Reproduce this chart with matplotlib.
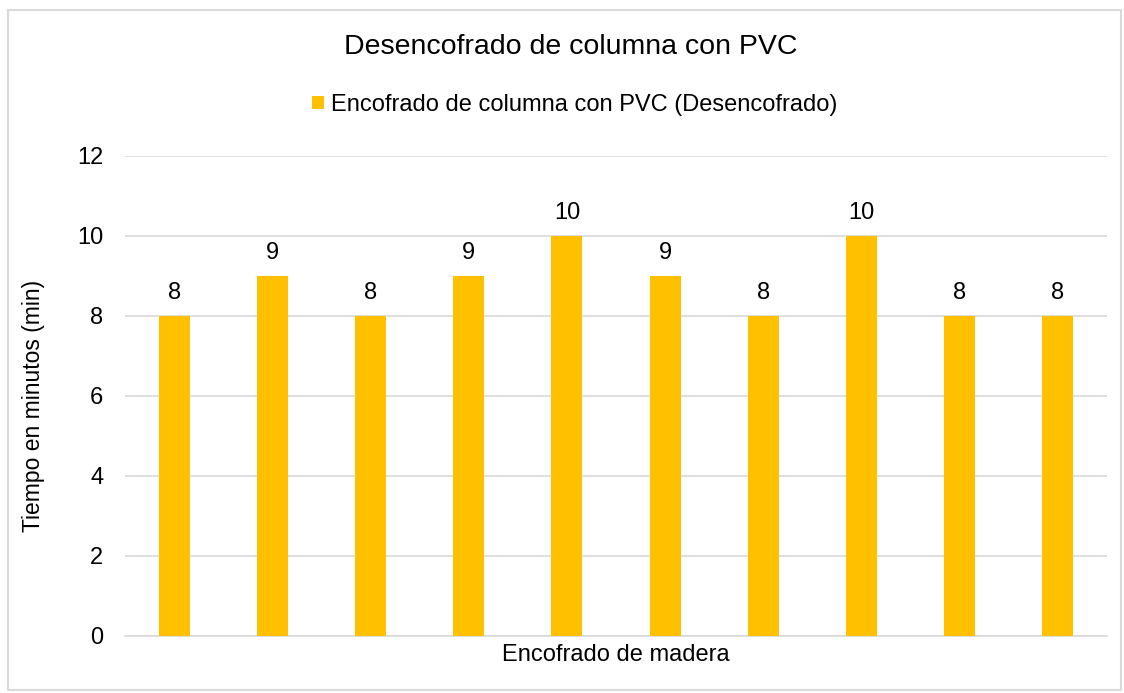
import matplotlib.pyplot as plt
import numpy as np
from matplotlib.patches import Rectangle

plt.rcParams['font.family'] = ['Liberation Sans', 'DejaVu Sans']

# datos
ensayos = list(range(1, 11))
tiempos = [8, 9, 8, 9, 10, 9, 8, 10, 8, 8]
serie = 'Encofrado de columna con PVC (Desencofrado)'
yticks = [0, 2, 4, 6, 8, 10, 12]

fig = plt.figure(figsize=(11.24, 6.93), dpi=100)
ax = fig.add_axes([125/1124, 1-636/693, 982/1124, 480/693])

x = np.arange(len(tiempos))
bars = ax.bar(x, tiempos, width=0.315, color='#FFC000', label=serie, zorder=3)
for xi, v in zip(x, tiempos):
    ax.text(xi, v + 0.31, str(v), ha='center', va='bottom', fontsize=17, color='#000000')

ax.set_xlim(-0.5, len(tiempos) - 0.5)
ax.set_ylim(0, 12)
ax.set_yticks(yticks)
ax.set_xticks([])
ax.tick_params(axis='y', length=0, labelsize=17, pad=15.5, colors='#000000')
ax.grid(axis='y', color='#D9D9D9', linewidth=1.2, zorder=0)
for s in ['top', 'right', 'left']:
    ax.spines[s].set_visible(False)
ax.spines['bottom'].set_color('#D9D9D9')
ax.spines['bottom'].set_linewidth(1.2)

ax.set_ylabel('Tiempo en minutos (min)', fontsize=16.5)
ax.yaxis.set_label_coords(-0.081, 0.479)
ax.set_xlabel('Encofrado de madera', fontsize=17, labelpad=6)

fig.text(571/1124, 1-47/693, 'Desencofrado de columna con PVC', ha='center', va='center', fontsize=20.5)
fig.legend(handles=[bars], labels=[serie], loc='center', bbox_to_anchor=(575/1124, 1-105/693),
           frameon=False, fontsize=17, handlelength=0.5, handleheight=0.5, handletextpad=0.3)

fig.patches.append(Rectangle((8/1124, 3/693), 1113/1124, 680/693, transform=fig.transFigure,
                             fill=False, edgecolor='#D9D9D9', linewidth=1.5))

fig.savefig('out.png', dpi=100)
